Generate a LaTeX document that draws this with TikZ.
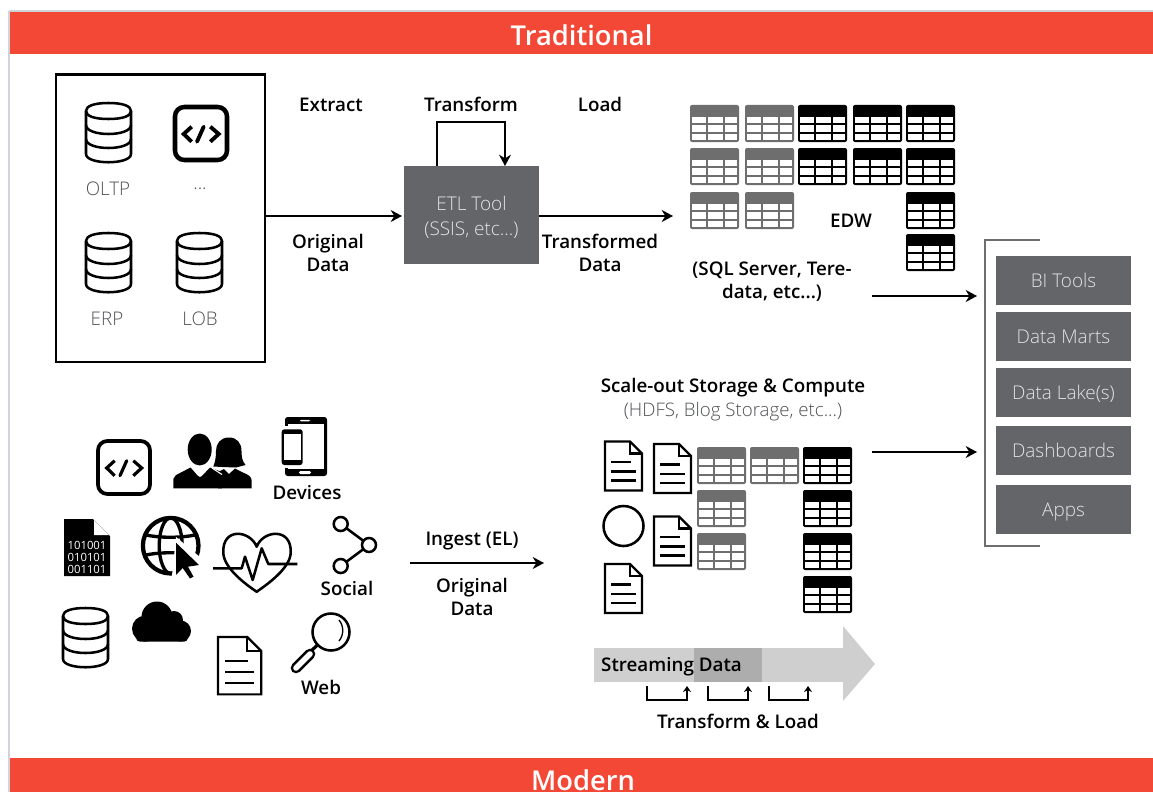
\documentclass[tikz,border=0pt]{standalone}
\usepackage{fontspec}
\setmainfont{Open Sans}
\newfontfamily\semifont{Open Sans Semibold}
\newfontfamily\lightfont{Open Sans Light}
\usepackage{tikz}
\usetikzlibrary {arrows.meta,
                 calc,
                 positioning}
\definecolor{bannerred}{HTML}{F44837}
\definecolor{boxgray}{HTML}{636569}
\definecolor{tablegray}{HTML}{6E6E6E}
\definecolor{edgegray}{HTML}{D0D3DA}
\definecolor{softgray}{HTML}{4F5053}
\tikzset{
        base/.style={align=center, inner sep=0pt, outer sep=0pt},
        banner/.style={base, fill=bannerred, text=white, minimum width=1144*0.75pt,
                       font=\semifont\fontsize{20.5}{24}\selectfont},
        lbl/.style={base, yshift=-0.5pt, font=\semifont\fontsize{14.1}{17.3}\selectfont},
        thin lbl/.style={base, yshift=-0.5pt, text=softgray, font=\lightfont\fontsize{14.1}{17.3}\selectfont},
        graybox/.style={base, fill=boxgray, text=white!82!boxgray, minimum width=101.25pt,
                        minimum height=36.75pt, text height=10.4pt, text depth=0pt,
                        font=\lightfont\fontsize{14.2}{18.7}\selectfont},
        myarrow/.style={-{Stealth[length=8.5pt,width=9pt]}, line width=2.1pt},
        tinyarrow/.style={-{Stealth[length=4.5pt,width=6pt]}, line width=1.6pt},
        icon/.style={line width=1.9pt, line join=round},
        pics/dbstack/.style={code={
            \draw[icon] (22.5,0) .. controls (8,0) and (0,3) .. (0,8)
                .. controls (0,13) and (8,16) .. (22.5,16)
                .. controls (37,16) and (45,13) .. (45,8)
                .. controls (45,3) and (37,0) .. (22.5,0);
            \draw[icon] (0,8) -- (0,51) .. controls (0,62) and (45,62) .. (45,51) -- (45,8);
            \draw[icon] (0,22) .. controls (0,34) and (45,34) .. (45,22);
            \draw[icon] (0,36) .. controls (0,48) and (45,48) .. (45,36);
        }},
        pics/codebox/.style={code={
            \draw[line width=#1, rounded corners=7pt] (2,2) rectangle (54,55);
            \draw[line width=#1*0.85, line join=miter] (18.7,21.7) -- (10.7,29) -- (18.7,36.7);
            \draw[line width=#1*0.85, line cap=round] (24,36.7) -- (30.7,21.7);
            \draw[line width=#1*0.85, line join=miter] (37.3,21.7) -- (45.7,29) -- (37.3,36.7);
        }},
        pics/tablegrid/.style={code={
            \fill[#1, rounded corners=1.5pt] (0,0) rectangle (49,37);
            \fill[white] (2,11.5) rectangle (16,18);
            \fill[white] (17.5,11.5) rectangle (33,18);
            \fill[white] (34.5,11.5) rectangle (47,18);
            \fill[white] (2,20) rectangle (16,27);
            \fill[white] (17.5,20) rectangle (33,27);
            \fill[white] (34.5,20) rectangle (47,27);
            \fill[white] (2,29) rectangle (16,35);
            \fill[white] (17.5,29) rectangle (33,35);
            \fill[white] (34.5,29) rectangle (47,35);
        }},
        pics/docpage/.style={code={
            \draw[line width=1.6pt, line join=miter] (0,0) -- (25,0) -- (37,12) -- (37,49) -- (0,49) -- cycle;
            \draw[line width=1.6pt] (25,0) -- (25,12) -- (37,12);
            \draw[line width=1.6pt] (6,20.5) -- (26,20.5);
            \draw[line width=1.6pt] (6,30) -- (31,30);
            \draw[line width=1.6pt] (6,39) -- (31,39);
        }},
 }

\begin{document}
\begin{tikzpicture}[x=0.75pt, y=-0.75pt]
    \useasboundingbox (0,0) rectangle (1153,792);

    % page edge
    \draw[edgegray, line width=1.8pt] (9,11) -- (9,792);
    \draw[edgegray, line width=1pt] (9,11) -- (1153,11);

    % banners
    \node[banner, anchor=north west, minimum height=42*0.75pt] (trad) at (9.5,12) {};
    \node[base, text=white, font=\semifont\fontsize{20.5}{24}\selectfont] (tradtxt) at (581.5,35) {Traditional};
    \node[banner, anchor=north west, minimum height=34*0.75pt] (mod) at (9.5,758) {};
    \node[base, text=white, font=\semifont\fontsize{20.5}{24}\selectfont] (modtxt) at (583,780) {Modern};

    % sources
    \node[draw, outer sep=0pt, line width=2.2pt, minimum width=209*0.75pt, minimum height=287.5*0.75pt, anchor=north west]
         (src) at (56,74.5) {};
    \pic at (86,103) {dbstack};
    \pic at (173,105) {codebox=3.4pt};
    \pic at (86,233) {dbstack};
    \pic at (177,233) {dbstack};
    \node[thin lbl] (oltp) at (108,188) {OLTP};
    \node[thin lbl] (more) at (200,188) {...};
    \node[thin lbl] (erp) at (107,318) {ERP};
    \node[thin lbl] (lob) at (200,318) {LOB};

    % etl
    \node[graybox, minimum width=135*0.75pt, minimum height=98*0.75pt] (etl) at (471.5,215) {};
    \node[base, yshift=-1.6pt, text=white!82!boxgray, font=\lightfont\fontsize{14.2}{18.7}\selectfont] (etltxt) at (471.5,215)
         {ETL Tool\\(SSIS, etc...)};
    \node[lbl] (extract) at (331,104) {Extract};
    \node[lbl] (transform) at (471,104) {Transform};
    \node[lbl] (load) at (600,104) {Load};
    \node[lbl] (orig) at (328,252) {Original\\Data};
    \node[lbl] (tdata) at (600,252) {Transformed\\Data};
    \coordinate (etlin) at (437,166);
    \coordinate (etlout) at (505,166);
    \coordinate (loadend) at (673,216);
    \draw[myarrow] (src.east |- etl) ++(0,1) -- ($(etl.west)+(-2,1)$);
    \draw[myarrow] ($(etl.east)+(0,1)$) -- (loadend);
    \draw[myarrow] (etlin) -- ++(0,-44) -| (etlout);

    % warehouse
    \pic at (690,105) {tablegrid=tablegray};
    \pic at (745,105) {tablegrid=tablegray};
    \pic at (798,105) {tablegrid=black};
    \pic at (853,105) {tablegrid=black};
    \pic at (906,105) {tablegrid=black};
    \pic at (690,148) {tablegrid=tablegray};
    \pic at (745,148) {tablegrid=tablegray};
    \pic at (798,148) {tablegrid=black};
    \pic at (853,148) {tablegrid=black};
    \pic at (906,148) {tablegrid=black};
    \pic at (690,192) {tablegrid=tablegray};
    \pic at (745,192) {tablegrid=tablegray};
    \pic at (906,192) {tablegrid=black};
    \pic at (906,234) {tablegrid=black};
    \node[lbl] (edw) at (851,220) {EDW};
    \node[lbl] (edwnote) at (772,281) {(SQL Server, Tere-\\data, etc...)};

    % outputs
    \node[graybox, anchor=north west] (bi) at (996,256) {BI Tools};
    \node[graybox, below=5.25pt of bi] (marts) {Data Marts};
    \node[graybox, below=5.25pt of marts] (lake) {Data Lake(s)};
    \node[graybox, below=6.75pt of lake] (dash) {Dashboards};
    \node[graybox, below=7.5pt of dash] (apps) {Apps};
    \coordinate (brka) at (1040,240);
    \coordinate (brkb) at (1040,546);
    \draw[tablegray, line width=2.2pt] (brka) -- (985,240) -- (985,546) -- (brkb);
    \coordinate (edwout) at (872,296);
    \coordinate (edwend) at (977,296);
    \coordinate (lakeout) at (872,452);
    \coordinate (lakeend) at (977,452);
    \draw[myarrow] (edwout) -- (edwend);
    \draw[myarrow] (lakeout) -- (lakeend);

    % modern sources
    \pic at (96,439) {codebox=2.8pt};
    \fill (199.7,449.5) ellipse (12 and 16);
    \fill (173.3,488.3) -- (173.3,479) .. controls (174,476) and (177,474) .. (180,473)
        -- (190.5,467.5) -- (198,476) -- (200,477) -- (202,476) -- (210,467.5) -- (222,472) -- (222,488.3) -- cycle;
    \fill (229,437.5) .. controls (220,437.5) and (216,444) .. (216,451) .. controls (216,457) and (215,463) .. (213.3,466.5)
        -- (222,467) -- (236,467.5) -- (245.5,465) .. controls (242,461) and (241.5,456) .. (241.5,451)
        .. controls (241.5,443) and (237,437.5) .. (229,437.5);
    \fill (218,488.3) -- (218,472) -- (224,469) -- (229,474) -- (235,468.5) -- (244,473)
        .. controls (249,475) and (251.7,477) .. (251.7,481) -- (251.7,488.3) -- cycle;
    \draw[white, line width=.8pt] (212,468) -- (222,474.5);

    \fill[rounded corners=2pt] (285,417) rectangle (327,476);
    \fill[white] (288,424) rectangle (323.5,468.5);
    \fill[white, rounded corners=1pt] (300,419.8) rectangle (310,421.4);
    \fill[white, rounded corners=1pt] (299,471) rectangle (311,474);
    \fill[white] (279,426) rectangle (305,468);
    \fill[rounded corners=2pt] (281.7,429.3) rectangle (302.7,465);
    \fill[white] (283.5,434) rectangle (300.8,460);
    \node[lbl] (devices) at (307,492) {Devices};

    \fill (64,519) -- (93,519) -- (110,536) -- (110,576) -- (64,576) -- cycle;
    \fill[white] (94,520) -- (94,535) -- (109,535) -- cycle;
    \node[base, text=white, font=\fontsize{8.5}{9}\selectfont] (bits) at (87,557) {101001\\010101\\001101};

    \draw[line width=3.2pt] (170.7,545.7) circle (27.8);
    \draw[line width=2.5pt] (170.7,545.7) ellipse (11.5 and 27.8);
    \draw[line width=2.5pt] (146,535) .. controls (160,538) and (181,538) .. (195,535);
    \draw[line width=2.5pt] (146,555) .. controls (160,552) and (181,552) .. (195,555);
    \fill[white] (176,537) -- (206,562) -- (200,585) -- (171,585) -- cycle;
    \fill (176,542.7) -- (199,565) -- (188,566.7) -- (193.5,576.7) -- (190,578.5) -- (182.7,568) -- (176,575) -- cycle;

    \draw[line width=1.9pt, line join=round] (256.7,546.7) .. controls (250,530) and (222,527) .. (223.3,553)
        .. controls (224,568) and (245,584) .. (256.7,591.7)
        .. controls (268,584) and (290,568) .. (290.7,553)
        .. controls (292,527) and (263,530) .. (256.7,546.7) -- cycle;
    \draw[line width=1.9pt, line join=round] (213,568.3) -- (241.7,568.3) -- (245,556.7) -- (252.7,580)
        -- (261.7,548.3) -- (268.3,564) -- (297.3,564);

    \draw[line width=1.9pt] (340.7,524) -- (369,545) -- (340.7,566);
    \draw[line width=1.9pt, fill=white] (340.7,524) circle (7);
    \draw[line width=1.9pt, fill=white] (369,545) circle (7);
    \draw[line width=1.9pt, fill=white] (340.7,566) circle (7);
    \node[lbl] (social) at (347,588) {Social};

    \pic at (63,608) {dbstack};
    \fill (145,628.7) circle (13);
    \fill (157,617) circle (15.5);
    \fill (174,620) circle (9);
    \fill (180.5,631) circle (10.5);
    \fill[rounded corners=3pt] (136,622) rectangle (188,641.7);
    \pic[scale=1.17] at (218,637) {docpage};
    \draw[line width=1.9pt] (331,632) circle (18.5);
    \draw[line width=1pt] (339,620) .. controls (344,626) and (344,635) .. (339,641);
    \draw[line width=2.4pt] (317.5,645) -- (311,651);
    \draw[line width=8pt, line cap=round] (310,654) -- (296,668);
    \draw[white, line width=4.2pt, line cap=round] (310,654) -- (296,668);
    \node[lbl] (web) at (321,687) {Web};

    % ingest
    \node[lbl] (ingest) at (472,540) {Ingest (EL)};
    \node[lbl] (origb) at (472,596) {Original\\Data};
    \coordinate (ingin) at (410,563);
    \coordinate (ingend) at (544,563);
    \draw[myarrow] (ingin) -- (ingend);

    % scale-out
    \node[lbl] (scale) at (733,387) {Scale-out Storage \& Compute};
    \node[base, yshift=-0.5pt, text=softgray, font=\lightfont\fontsize{14}{15}\selectfont] (hdfs) at (733,411) {(HDFS, Blog Storage, etc...)};
    \pic at (605,441.5) {docpage};
    \pic at (654,444) {docpage};
    \pic at (654,516.5) {docpage};
    \pic at (605,564) {docpage};
    \draw[line width=1.9pt] (623.5,526) circle (20);
    \pic at (697,447) {tablegrid=tablegray};
    \pic at (750,447) {tablegrid=tablegray};
    \pic at (697,490) {tablegrid=tablegray};
    \pic at (697,533) {tablegrid=tablegray};
    \pic at (803,447) {tablegrid=black};
    \pic at (803,490) {tablegrid=black};
    \pic at (803,533) {tablegrid=black};
    \pic at (803,576) {tablegrid=black};

    % stream
    \fill[black!19] (594,648) rectangle (843,682);
    \fill[black!19] (843,626) -- (875,664) -- (843,701) -- cycle;
    \fill[black!32] (694,648) rectangle (762,682);
    \node[lbl] (stream) at (671.5,666) {Streaming Data};
    \coordinate (hopa) at (647,686);
    \coordinate (hopb) at (687,686);
    \coordinate (hopc) at (708,686);
    \coordinate (hopd) at (748,686);
    \coordinate (hope) at (769,686);
    \coordinate (hopf) at (808,686);
    \draw[tinyarrow] (hopa) -- ++(0,14) -| (hopb);
    \draw[tinyarrow] (hopc) -- ++(0,14) -| (hopd);
    \draw[tinyarrow] (hope) -- ++(0,14) -| (hopf);
    \node[lbl] (tload) at (738,721) {Transform \& Load};

\end{tikzpicture}
\end{document}
